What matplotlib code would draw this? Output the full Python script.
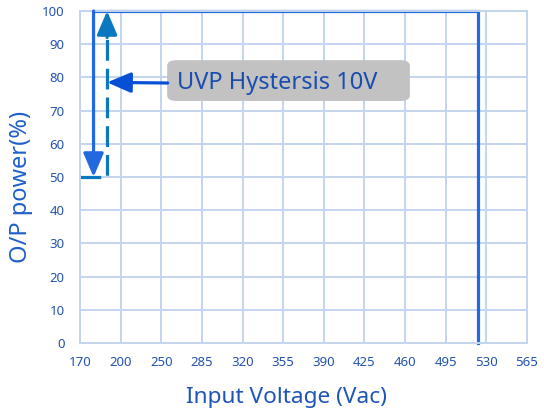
import numpy as np
import matplotlib
matplotlib.use("Agg")
import matplotlib.pyplot as plt
from matplotlib.patches import FancyBboxPatch

plt.rcParams['font.family'] = ['Noto Sans', 'DejaVu Sans']

# x ticks are evenly spaced on the chart, not by value
x_ticks = [170, 200, 250, 285, 320, 355, 390, 425, 460, 495, 530, 565]
y_ticks = [0, 10, 20, 30, 40, 50, 60, 70, 80, 90, 100]

# solid curve: power-up path (drawn from the right end back to the arrow)
solid_v = [523, 523, 180, 180]
solid_p = [0, 100, 100, 50]
# dashed curve: recovery path
dash_v = [170, 190, 190]
dash_p = [50, 50, 100]

label_text = "UVP Hystersis 10V"
pointer_p = 78.5

idx = np.arange(len(x_ticks))


def fwd(v):
    return np.interp(v, x_ticks, idx)


def inv(i):
    return np.interp(i, idx, x_ticks)


fig = plt.figure(figsize=(5.44, 4.11), dpi=100)
ax = fig.add_axes([80 / 544, 1 - 343 / 411, 447 / 544, 332 / 411])
ax.set_xscale('function', functions=(fwd, inv))
ax.set_xlim(x_ticks[0], x_ticks[-1])
ax.set_ylim(0, 100)
ax.set_xticks(x_ticks)
ax.set_yticks(y_ticks)

grid_c = '#c3d4ee'
ax.grid(True, color=grid_c, lw=1.4)
ax.set_axisbelow(True)
for s in ax.spines.values():
    s.set_color(grid_c)
    s.set_linewidth(1.4)

tick_c = '#2352b0'
ax.tick_params(length=0, labelsize=9.5, labelcolor=tick_c)
ax.tick_params(axis='x', pad=9)
ax.tick_params(axis='y', pad=11)

solid_c = '#2268df'
dash_c = '#0a78c0'
arrow_c = '#0650d6'
head = dict(arrowstyle='-|>,head_length=1.45,head_width=0.62', lw=2.3,
            shrinkA=0, shrinkB=0)

# solid path with arrow at the 50% end
ax.plot(solid_v[:3], solid_p[:3], color=solid_c, lw=2.3, solid_joinstyle='miter', clip_on=False)
ax.annotate('', xy=(solid_v[3], solid_p[3]), xytext=(solid_v[2], solid_p[2]),
            arrowprops=dict(head, color=solid_c))

# dashed path with arrow at 100%
ax.plot(dash_v, [dash_p[0], dash_p[1], dash_p[2] - 8], color=dash_c, lw=2.3,
        dashes=(6.5, 2.5), solid_capstyle='butt')
ax.annotate('', xy=(dash_v[2], dash_p[2]), xytext=(dash_v[2], dash_p[2] - 8),
            arrowprops=dict(head, color=dash_c))

# label box with pointer
box = FancyBboxPatch((0.195, 0.729), 0.543, 0.123, transform=ax.transAxes,
                     boxstyle='round,pad=0,rounding_size=0.022', fc='#c2c2c2', ec='none',
                     mutation_aspect=332 / 447, zorder=3)
ax.add_patch(box)
ax.text(0.217, 0.765, label_text, transform=ax.transAxes, ha='left', va='baseline',
        fontsize=17, color='#1a4db0', zorder=4)
ax.annotate('', xy=(dash_v[2], pointer_p), xytext=(0.196, (343 - 83) / 332),
            textcoords='axes fraction', xycoords='data',
            arrowprops=dict(head, color=arrow_c))

ax.set_xlabel('Input Voltage (Vac)', fontsize=16.3, color='#1f55b8', va='center')
ax.xaxis.set_label_coords(0.463, -0.163)
ax.set_ylabel('O/P power(%)', fontsize=17, color='#1f5fc8', va='center', ha='center')
ax.yaxis.set_label_coords(-0.132, 0.471)

fig.savefig('out.png', dpi=100)
